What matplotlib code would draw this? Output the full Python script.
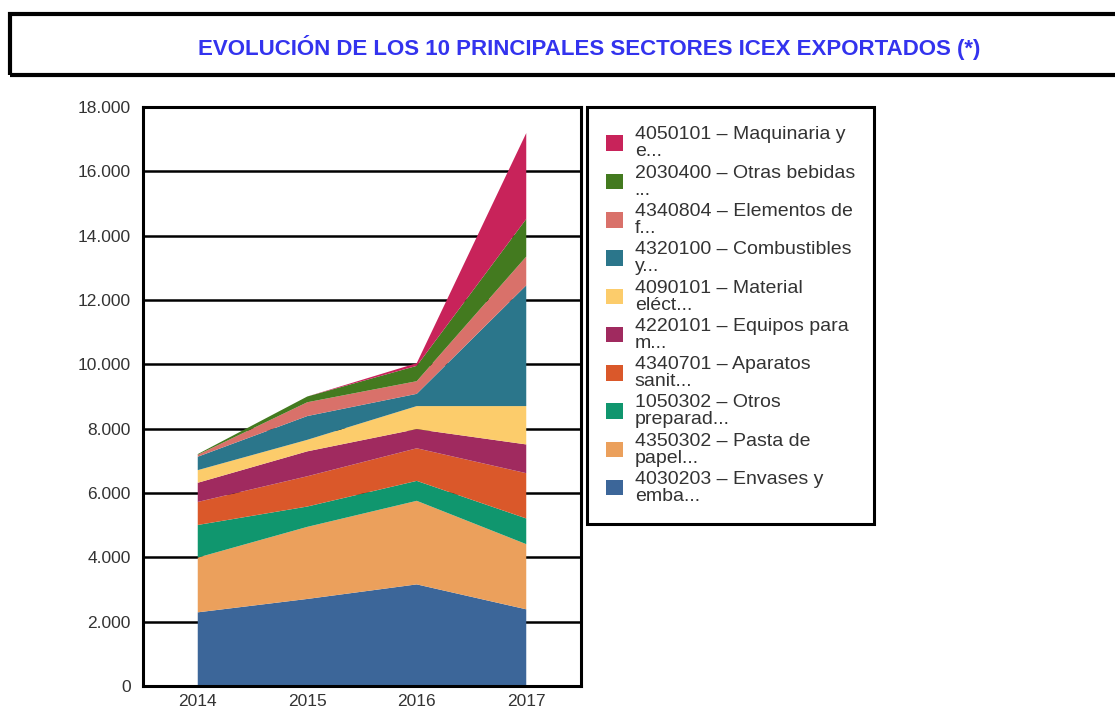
import matplotlib.pyplot as plt
from matplotlib.patches import Rectangle, Patch
from matplotlib.ticker import FuncFormatter

years = [2014, 2015, 2016, 2017]

# series from bottom to top of the stack
envases = [2290, 2706, 3159, 2384]
pasta_papel = [1703, 2241, 2598, 2026]
otros_preparad = [1013, 632, 620, 799]
aparatos_sanit = [716, 941, 1013, 1407]
equipos_para = [596, 775, 596, 894]
material_elect = [393, 358, 716, 1192]
combustibles = [417, 739, 381, 3754]
elementos_f = [60, 429, 393, 894]
otras_bebidas = [22, 179, 477, 1169]
maquinaria = [0, 0, 84, 2670]

labels = [
    "4030203 \u2013 Envases y\nemba...",
    "4350302 \u2013 Pasta de\npapel...",
    "1050302 \u2013 Otros\npreparad...",
    "4340701 \u2013 Aparatos\nsanit...",
    "4220101 \u2013 Equipos para\nm...",
    "4090101 \u2013 Material\nel\u00e9ct...",
    "4320100 \u2013 Combustibles\ny...",
    "4340804 \u2013 Elementos de\nf...",
    "2030400 \u2013 Otras bebidas\n...",
    "4050101 \u2013 Maquinaria y\ne...",
]
colors = ["#3c6699", "#eba05c", "#10966e", "#da582a", "#a02a5f",
          "#fccc6b", "#2b768b", "#d9716a", "#437a1f", "#c8235a"]

series = [envases, pasta_papel, otros_preparad, aparatos_sanit, equipos_para,
          material_elect, combustibles, elementos_f, otras_bebidas, maquinaria]

plt.rcParams['font.family'] = ['Liberation Sans', 'DejaVu Sans']

fig = plt.figure(figsize=(11.15, 7.13), dpi=100)
W, H = 1115, 713

# title box
fig.patches.append(Rectangle((10 / W, 1 - 75 / H), 1.2, 61 / H, transform=fig.transFigure,
                             fill=False, edgecolor="black", linewidth=3))
fig.text(589 / W, 1 - 48 / H, "EVOLUCIÓN DE LOS 10 PRINCIPALES SECTORES ICEX EXPORTADOS (*)",
         color="#3333ee", fontsize=16, fontweight="bold", ha="center", va="center")

ax = fig.add_axes([143 / W, 1 - 686 / H, (581 - 143) / W, (686 - 107) / H])
ax.stackplot(years, *series, colors=colors, labels=labels)

ax.set_xlim(2013.5, 2017.5)
ax.set_ylim(0, 18000)
ax.set_yticks(range(0, 18001, 2000))
ax.set_xticks(years)
ax.yaxis.set_major_formatter(FuncFormatter(lambda v, p: f"{int(v):,}".replace(",", ".")))
ax.grid(axis="y", color="black", linewidth=1.8)
ax.set_axisbelow(True)
for s in ax.spines.values():
    s.set_linewidth(2.2)
ax.tick_params(labelsize=12.5, length=0, labelcolor="#333333")
ax.tick_params(axis="y", pad=9)
ax.tick_params(axis="x", pad=6)

handles = [Patch(facecolor=c, edgecolor="none") for c in colors][::-1]
leg = ax.legend(handles, labels[::-1], loc="upper left",
                bbox_to_anchor=(587 / W, 1 - 107 / H), bbox_transform=fig.transFigure,
                borderaxespad=0, fancybox=False, edgecolor="black", framealpha=1,
                fontsize=14, handlelength=0.85, handleheight=0.85, labelspacing=0.22,
                borderpad=1.0, handletextpad=0.6, labelcolor="#333333")
leg.get_frame().set_linewidth(2.2)
for t in leg.get_texts():
    t.set_linespacing(1.0)

fig.savefig("out.png", dpi=100)
